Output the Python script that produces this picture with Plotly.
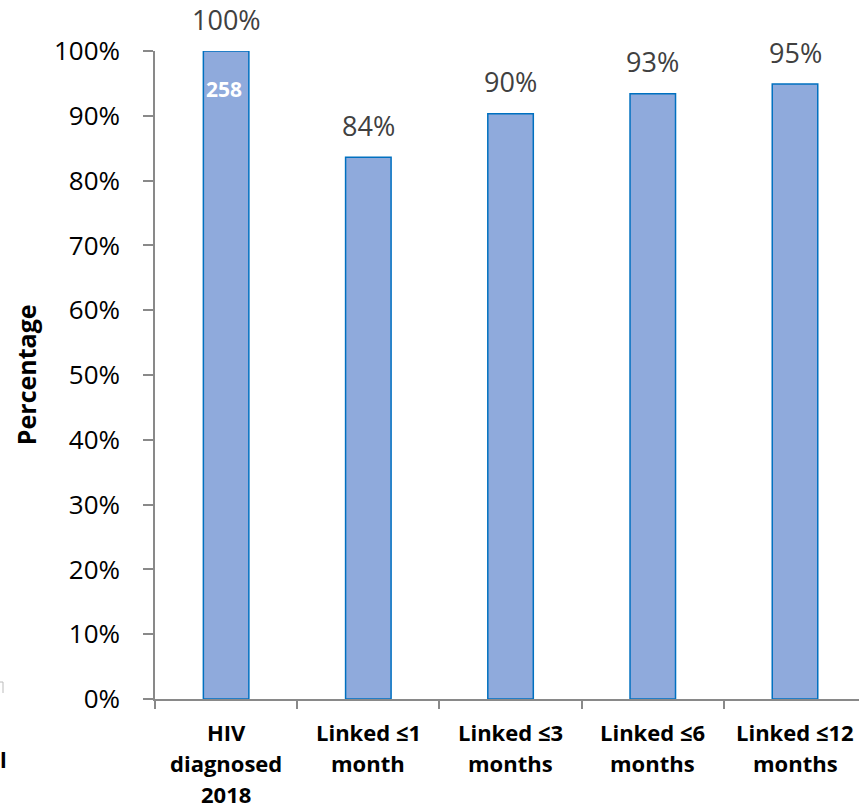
import plotly.graph_objects as go

# ---- data ----
categories = ["HIV diagnosed 2018", "Linked ≤1 month", "Linked ≤3 months",
              "Linked ≤6 months", "Linked ≤12 months"]
category_lines = [["HIV", "diagnosed", "2018"],
                  ["Linked ≤1", "month"],
                  ["Linked ≤3", "months"],
                  ["Linked ≤6", "months"],
                  ["Linked ≤12", "months"]]
percent_values = [100.0, 83.6, 90.3, 93.4, 94.9]
bar_labels = ["100%", "84%", "90%", "93%", "95%"]
count_label = "258"
y_ticks = [0, 10, 20, 30, 40, 50, 60, 70, 80, 90, 100]
y_tick_labels = ["0%", "10%", "20%", "30%", "40%", "50%", "60%", "70%",
                 "80%", "90%", "100%"]
y_title = "Percentage"

FONT = "Open Sans"
AXIS_COLOR = "#898989"

fig = go.Figure()
fig.add_trace(go.Bar(
    x=categories, y=percent_values, width=0.32,
    marker=dict(color="#8FAADC", line=dict(color="#0070C0", width=1.5)),
    hoverinfo="skip",
))

annotations = []
# value labels above bars
for cat, val, lab in zip(categories, percent_values, bar_labels):
    annotations.append(dict(x=cat, y=val, xref="x", yref="y", text=lab,
                            showarrow=False, yanchor="middle", yshift=32,
                            font=dict(family=FONT, size=27, color="#404040")))
# count inside the first bar
annotations.append(dict(x=categories[0], y=percent_values[0], xref="x", yref="y",
                        text="<b>%s</b>" % count_label, showarrow=False,
                        yanchor="middle", yshift=-38, xshift=-2,
                        font=dict(family=FONT, size=21, color="white")))
# category labels, one line each
for cat, lines in zip(categories, category_lines):
    for i, line in enumerate(lines):
        annotations.append(dict(x=cat, y=0, xref="x", yref="paper",
                                text="<b>%s</b>" % line, showarrow=False,
                                yanchor="middle", yshift=-33 - 31 * i,
                                font=dict(family=FONT, size=22, color="black")))
# y axis title
annotations.append(dict(x=-0.183, y=0.5, xref="paper", yref="paper",
                        text="<b>%s</b>" % y_title, showarrow=False,
                        textangle=-90, xanchor="center", yanchor="middle",
                        font=dict(family=FONT, size=25, color="black")))
# stray cropped glyph at bottom-left
annotations.append(dict(x=-0.2145, y=-0.0926, xref="paper", yref="paper",
                        text="<b>l</b>", showarrow=False,
                        xanchor="center", yanchor="middle",
                        font=dict(family=FONT, size=22, color="black")))

fig.update_layout(
    width=859, height=808,
    margin=dict(l=155, r=0, t=51, b=109),
    paper_bgcolor="white", plot_bgcolor="white",
    showlegend=False,
    annotations=annotations,
    shapes=[dict(type="path", xref="paper", yref="paper",
                 path="M -0.2202,0.0262 L -0.2159,0.0262 L -0.2159,0.00926",
                 line=dict(color="#BBBBBB", width=1))],
    xaxis=dict(type="category", range=[-0.5, 4.45], showticklabels=False,
               tickson="boundaries", ticks="outside", ticklen=8, tickwidth=1.5,
               tickcolor=AXIS_COLOR, showline=True, linecolor=AXIS_COLOR,
               linewidth=1.5, showgrid=False, zeroline=False, fixedrange=True),
    yaxis=dict(range=[0, 100], tickmode="array", tickvals=y_ticks,
               ticktext=y_tick_labels,
               ticks="outside", ticklen=10, tickwidth=1.5, tickcolor=AXIS_COLOR,
               showline=True, linecolor=AXIS_COLOR, linewidth=1.5,
               showgrid=False, zeroline=False, ticklabelstandoff=18,
               tickfont=dict(family=FONT, size=26, color="black"),
               fixedrange=True),
)

fig.write_html("out.html", config={"displayModeBar": False},
               post_script="document.body.style.margin='0';"
                           "document.body.style.overflow='hidden';")
